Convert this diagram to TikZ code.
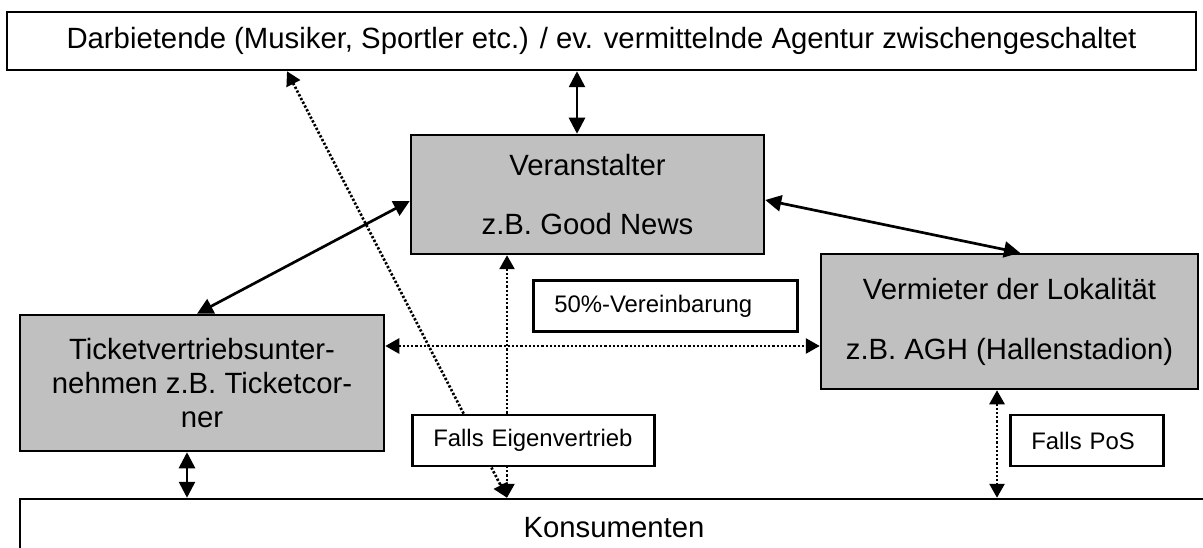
\documentclass[tikz,border=0pt]{standalone}
\usepackage{fontspec}
\setmainfont{Liberation Sans}
\usetikzlibrary{arrows.meta}
\definecolor{boxgray}{RGB}{192,192,192}
\tikzset{
  mainfont/.style={font=\fontsize{29.3pt}{33.7pt}\selectfont},
  smallfont/.style={font=\fontsize{23.9pt}{28pt}\selectfont},
  plainbox/.style={draw, line width=2.5pt, fill=white, inner sep=0pt, mainfont, align=center},
  graybox/.style={plainbox, fill=boxgray},
  notebox/.style={draw, line width=2.5pt, fill=white, inner xsep=21pt, inner ysep=0pt,
    minimum height=51pt, smallfont, align=left, anchor=west},
  solidlink/.style={line width=2.7pt, {Triangle[length=16pt,width=16pt]}-{Triangle[length=16pt,width=16pt]}},
  dotlink/.style={line width=2.7pt, dash pattern=on 2.3pt off 1.9pt,
    {Triangle[length=14pt,width=15pt]}-{Triangle[length=14pt,width=15pt]}},
}
\begin{document}
\begin{tikzpicture}[x=1pt,y=-1pt]
  \useasboundingbox (0,0) rectangle (1203,548);
  \clip (0,0) rectangle (1203,548);

  % main boxes
  \node[plainbox, minimum width=1189pt, minimum height=58pt] (top) at (601.5,41)
    {Darbietende (Musiker, Sportler etc.) / ev. vermittelnde Agentur zwischengeschaltet};
  \node[graybox, minimum width=353pt, minimum height=119pt] (ver) at (587.5,194.5)
    {Veranstalter\\[25.3pt]z.B. Good News};
  \node[graybox, minimum width=377pt, minimum height=135pt] (verm) at (1009.5,321.5)
    {Vermieter der Lokalität\\[26.3pt]z.B. AGH (Hallenstadion)};
  \node[graybox, minimum width=364pt, minimum height=136pt] (ticket) at (202,383)
    {Ticketvertriebsunter-\\nehmen z.B. Ticketcor-\\ner};
  \node[plainbox, minimum width=1188pt, minimum height=58pt] (kons) at (614,528)
    {Konsumenten};

  % solid links
  \draw[solidlink] ([xshift=-10.5pt]ver.north |- top.south) -- ([xshift=-10.5pt]ver.north);
  \draw[solidlink] ([yshift=-6.5pt]ver.west) -- ([xshift=-5pt]ticket.north);
  \draw[solidlink] ([yshift=-5.5pt]ver.east) -- ([xshift=10.5pt]verm.north);
  \draw[solidlink] ([xshift=-15pt]ticket.south) -- ([xshift=-15pt]ticket.south |- kons.north);

  % dotted links
  \draw[dotlink] ([yshift=37pt]ticket.east) -- ([yshift=37pt]ticket.east -| verm.west);
  \draw[dotlink] ([xshift=-80.5pt]ver.south) -- ([xshift=-80.5pt]ver.south |- kons.north);
  \draw[dotlink] ([xshift=-314.5pt]top.south) -- ([xshift=-80.5pt]ver.south |- kons.north);
  \draw[dotlink] ([xshift=-12.5pt]verm.south) -- ([xshift=-12.5pt]verm.south |- kons.north);

  % notes
  \node[notebox, text width=222pt] (vereinb) at (532,306) {\mbox{50\%-Vereinbarung}};
  \node[notebox, text width=200pt] (eigen) at (411,440.5) {\mbox{Falls Eigenvertrieb}};
  \node[notebox, text width=111pt] (pos) at (1009,440.5) {\mbox{Falls PoS}};
\end{tikzpicture}
\end{document}
